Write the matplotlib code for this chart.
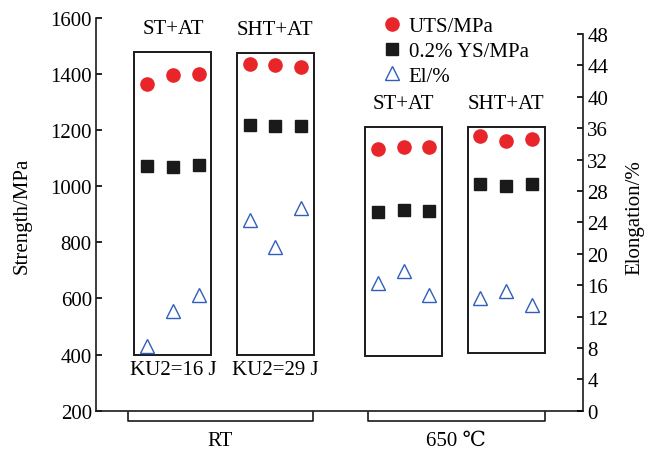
import matplotlib
matplotlib.use('Agg')
import matplotlib.pyplot as plt
from matplotlib.patches import Rectangle

plt.rcParams['font.family'] = ['Liberation Serif', 'DejaVu Serif']
plt.rcParams['mathtext.fontset'] = 'stix'

# data: four conditions, three specimens each
groups = ['ST+AT', 'SHT+AT', 'ST+AT', 'SHT+AT']
uts = [[1365, 1397, 1400], [1436, 1433, 1427], [1133, 1140, 1140], [1180, 1160, 1169]]
ys = [[1072, 1068, 1075], [1218, 1214, 1216], [909, 915, 912], [1008, 1000, 1007]]
el = [[8.2, 12.7, 14.8], [24.3, 20.8, 25.8], [16.3, 17.8, 14.8], [14.4, 15.2, 13.5]]
box_top = [1477, 1474, 1210, 1210]
box_bottom = [400, 400, 394, 406]
ku2 = ['KU2=16 J', 'KU2=29 J', None, None]
temps = ['RT', '650 ℃']
group_start = [0, 4, 9, 13]

RED = '#e8262a'
BLACK = '#1a1a1a'
BLUE = '#2f5fb8'
FS = 15

fig = plt.figure(figsize=(6.45, 4.52), dpi=100)
ax = fig.add_axes([0.1488, 0.0892, 0.7551, 0.8688])
ax2 = ax.twinx()

for i, g in enumerate(groups):
    xs = [group_start[i] + j for j in range(3)]
    ax.plot(xs, uts[i], 'o', color=RED, ms=9.5, zorder=3,
            label='UTS/MPa' if i == 0 else None)
    ax.plot(xs, ys[i], 's', color=BLACK, ms=8.3, zorder=3,
            label='0.2% YS/MPa' if i == 0 else None)
    ax2.plot(xs, el[i], '^', mfc='none', mec=BLUE, mew=1.0, ms=10, zorder=3,
             label='El/%' if i == 0 else None)
    x0 = group_start[i] - 0.5
    ax.add_patch(Rectangle((x0, box_bottom[i]), 3, box_top[i] - box_bottom[i],
                           fill=False, ec=BLACK, lw=1.4, zorder=2))
    cx = group_start[i] + 1
    ax.text(cx, box_top[i] + 50, g, ha='center', va='bottom', fontsize=FS)
    if ku2[i]:
        ax.text(cx, box_bottom[i] - 20, ku2[i], ha='center', va='top', fontsize=FS)

# brackets under the x axis
brackets = [(-0.75, 6.45), (8.62, 15.5)]
for (a, b), t in zip(brackets, temps):
    ax.plot([a, a, b, b], [196, 164, 164, 196], color=BLACK, lw=1.2, clip_on=False)
    ax.text((a + b) / 2, 128, t, ha='center', va='top', fontsize=FS)

ax.set_xlim(-2, 17)
ax.set_ylim(200, 1600)
ax.set_yticks(range(200, 1601, 200))
ax.set_xticks([])
ax2.set_ylim(0, 50.04)
ax2.set_yticks(range(0, 49, 4))
ax2.spines['right'].set_bounds(0, 48)

for a in (ax, ax2):
    a.spines['top'].set_visible(False)
    for s in a.spines.values():
        s.set_linewidth(1.2)
        s.set_color(BLACK)
    a.tick_params(axis='y', direction='in', length=4, width=1.2, labelsize=FS, pad=3)
ax.spines['right'].set_visible(False)
ax2.spines['left'].set_visible(False)
ax2.spines['bottom'].set_visible(False)

fig.text(0.034, 0.522, 'Strength/MPa', rotation=90, ha='center', va='center', fontsize=FS)
fig.text(0.9845, 0.518, 'Elongation/%', rotation=90, ha='center', va='center', fontsize=FS)

h1, l1 = ax.get_legend_handles_labels()
h2, l2 = ax2.get_legend_handles_labels()
ax.legend(h1 + h2, l1 + l2, loc='upper left', bbox_to_anchor=(0.565, 1.025),
          frameon=False, fontsize=FS, handletextpad=0.2, labelspacing=0.25,
          handlelength=1.2, borderaxespad=0)

fig.savefig('out.png', dpi=100)
